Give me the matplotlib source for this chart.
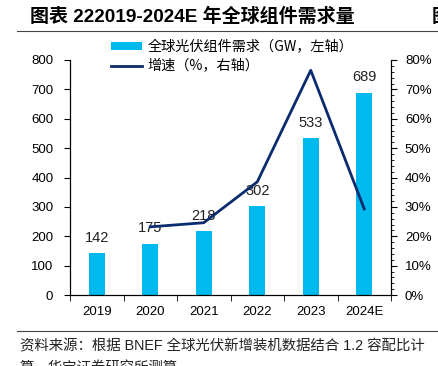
import matplotlib.pyplot as plt
from matplotlib.ticker import MultipleLocator, FuncFormatter

plt.rcParams['font.family'] = ['Liberation Sans', 'Noto Sans CJK SC', 'DejaVu Sans']

years = ['2019', '2020', '2021', '2022', '2023', '2024E']
demand = [142, 175, 218, 302, 533, 689]
growth_years = ['2020', '2021', '2022', '2023', '2024E']
growth = [23.2, 24.6, 38.5, 76.5, 29.3]

bar_color = '#00B9EF'
line_color = '#0A2B6E'

fig = plt.figure(figsize=(4.39, 3.66), dpi=100)
ax = fig.add_axes([70 / 439, 71 / 366, 321 / 439, 235 / 366])
ax2 = ax.twinx()

x = list(range(len(years)))
ax.bar(x, demand, width=0.3, color=bar_color, zorder=2, label='全球光伏组件需求（GW，左轴）')
for xi, v in zip(x, demand):
    ax.text(xi, v + 28, str(v), ha='center', va='bottom', fontsize=10.5, color='#222222')

gx = [years.index(y) for y in growth_years]
ax2.plot(gx, growth, color=line_color, lw=2, label='增速（%，右轴）')

ax.set_xlim(-0.5, len(years) - 0.5)
ax.set_ylim(0, 800)
ax.yaxis.set_major_locator(MultipleLocator(100))
ax.set_xticks(x)
ax.set_xticklabels(years, fontsize=9.5)
ax.set_xticks([i - 0.5 for i in range(len(years) + 1)], minor=True)
ax.tick_params(axis='x', which='major', length=0, pad=8)
ax.tick_params(axis='x', which='minor', length=4, direction='out')
ax.tick_params(axis='y', labelsize=9.5, length=4, direction='out', pad=8)

ax2.set_ylim(0, 80)
ax2.yaxis.set_major_locator(MultipleLocator(10))
ax2.yaxis.set_minor_locator(MultipleLocator(2))
ax2.yaxis.set_major_formatter(FuncFormatter(lambda v, p: f'{v:.0f}%'))
ax2.tick_params(axis='y', which='major', labelsize=9.5, length=4, direction='out', pad=6)
ax2.tick_params(axis='y', which='minor', length=2.5, direction='out')

for a in (ax, ax2):
    a.spines['top'].set_visible(False)
    for s in ('left', 'right', 'bottom'):
        a.spines[s].set_linewidth(0.8)

h1, l1 = ax.get_legend_handles_labels()
h2, l2 = ax2.get_legend_handles_labels()
leg = ax.legend(h1 + h2, l1 + l2, loc='upper left', bbox_to_anchor=(0.11, 1.11),
                frameon=False, fontsize=10.2, handlelength=2.2, handleheight=0.5,
                handletextpad=0.4, labelspacing=0.4, borderaxespad=0)
for t in leg.get_texts():
    t.set_family(['Noto Sans CJK SC', 'DejaVu Sans'])

fig.text(30 / 439, 1 - 17 / 366, '图表 222019-2024E 年全球组件需求量', fontsize=13.7,
         fontweight='bold', va='center', ha='left',
         family=['Liberation Sans', 'Noto Sans CJK SC'])
fig.text(432 / 439, 1 - 17 / 366, '图', fontsize=13.5, fontweight='bold', va='center',
         ha='left', family=['Noto Sans CJK SC'])
fig.add_artist(plt.Line2D([17 / 439, 1], [1 - 31 / 366] * 2, color='#444444', lw=0.8))
fig.add_artist(plt.Line2D([17 / 439, 1], [1 - 331 / 366] * 2, color='#444444', lw=0.8))
fig.text(20 / 439, 1 - 346 / 366, '资料来源：根据 BNEF 全球光伏新增装机数据结合 1.2 容配比计',
         fontsize=10.4, va='center', ha='left', color='#222222')
fig.text(20 / 439, 1 - 368 / 366, '算，华宝证券研究所测算',
         fontsize=10.4, va='center', ha='left', color='#222222')

fig.savefig('out.png', dpi=100)
